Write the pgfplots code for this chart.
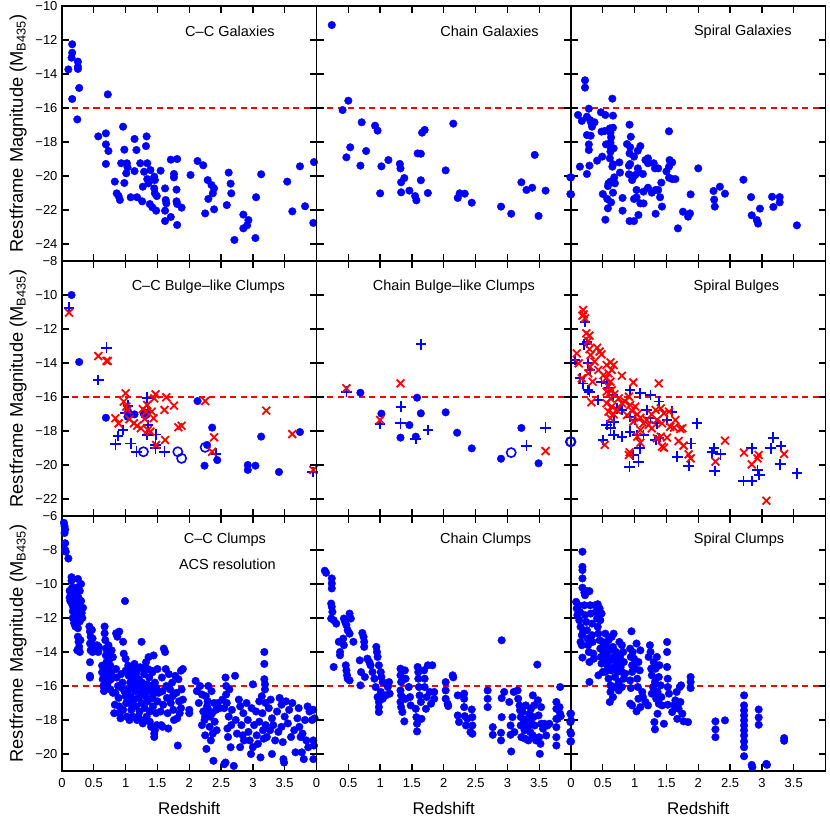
\documentclass[border=0pt]{standalone}
\usepackage{fontspec}
\setmainfont{Liberation Sans}
\usepackage{pgfplots}
\pgfplotsset{compat=1.18}
\definecolor{pblue}{RGB}{0,0,255}
\definecolor{pred}{RGB}{255,0,0}

\tikzset{ttl/.style={font=\fontsize{14.5}{14.5}\selectfont, anchor=center}}
\pgfplotsset{
  panel/.style={
    scale only axis, width=254.5pt, height=255pt,
    xmin=0, xmax=4,
    xtick={0,0.5,1,1.5,2,2.5,3,3.5,4},
    xticklabels={},
    tick align=inside, major tick length=7pt,
    axis line style={line width=1.6pt},
    every tick/.style={line width=1.3pt, black},
    tick label style={font=\fontsize{13}{13}\selectfont},
    yticklabel style={xshift=-1pt},
    xticklabel style={yshift=-4pt},
    xlabel style={font=\fontsize{17}{17}\selectfont},
    ylabel style={font=\fontsize{18.3}{18.3}\selectfont},
    ylabel shift=2pt,
    xlabel shift=8pt,
    axis on top,
  },
  toprow/.style={ymin=-25, ymax=-10, ytick={-24,-22,-20,-18,-16,-14,-12,-10}},
  midrow/.style={ymin=-23, ymax=-8, ytick={-22,-20,-18,-16,-14,-12,-10,-8}},
  botrow/.style={ymin=-21, ymax=-6, ytick={-20,-18,-16,-14,-12,-10,-8,-6},
    xticklabels={0,0.5,1,1.5,2,2.5,3,3.5,{}}, xlabel={Redshift}},
  leftcol/.style={ylabel={Restframe Magnitude (M\textsubscript{B435})}},
  noy/.style={yticklabels={}},
  dot/.style={only marks, mark=*, mark size=3.8pt, color=pblue},
  plus/.style={only marks, mark=+, mark size=5.3pt, color=pblue, mark options={line width=1.8pt}},
  ring/.style={only marks, mark=o, mark size=4.6pt, color=pblue, mark options={line width=1.6pt}},
  cross/.style={only marks, mark=x, mark size=5.5pt, color=pred, mark options={line width=1.8pt}},
  cut/.style={pred, line width=1.5pt, dash pattern=on 6pt off 4.5pt},
}

\begin{document}
\begin{tikzpicture}
\useasboundingbox (0pt,0pt) rectangle (830pt,-820pt);

% ---------- top row ----------
\begin{axis}[panel, toprow, leftcol, at={(62pt,-6pt)}, anchor=north west,
  yticklabels={−24,−22,−20,−18,−16,−14,−12,−10}]
\addplot[cut] coordinates {(0,-16) (4,-16)};
\addplot[dot] coordinates {
(0.10,-13.73)(0.16,-12.25)(0.16,-12.75)(0.15,-13.04)(0.16,-15.47)(0.25,-13.27)(0.25,-13.57)
(0.25,-13.7)(0.27,-14.82)(0.24,-16.67)(0.72,-15.2)(0.57,-17.67)(0.69,-17.49)(0.69,-18.14)
(0.73,-18.53)(0.69,-19.29)(0.96,-17.1)(0.98,-18.45)(0.83,-20.33)(0.86,-21.02)(0.89,-21.18)
(0.91,-21.41)(0.93,-19.25)(0.98,-20.41)(1.01,-19.84)(1.02,-19.25)(1.03,-19.49)(1.08,-21.25)
(1.14,-17.82)(1.17,-18.47)(1.14,-19.71)(1.18,-21.25)(1.23,-19.25)(1.26,-21.49)(1.27,-20.63)
(1.29,-19.75)(1.33,-17.67)(1.32,-18.24)(1.34,-19.25)(1.34,-20.18)(1.36,-20.43)(1.39,-19.65)
(1.38,-21.65)(1.42,-21.84)(1.45,-20.04)(1.46,-20.24)(1.45,-20.73)(1.46,-21.02)(1.49,-21.18)
(1.48,-22.04)(1.55,-19.69)(1.62,-20.73)(1.63,-21.41)(1.64,-21.61)(1.62,-22.04)(1.62,-22.65)
(1.71,-19.04)(1.71,-22.41)(1.76,-19.88)(1.76,-20.08)(1.80,-20.8)(1.80,-21.49)(1.81,-21.65)
(1.81,-19.0)(1.88,-21.86)(1.81,-22.88)(2.02,-19.94)(2.13,-19.12)(2.22,-19.37)(2.25,-22.2)
(2.29,-20.24)(2.30,-21.35)(2.35,-20.53)(2.37,-21.02)(2.39,-20.73)(2.39,-21.96)(2.59,-21.71)
(2.62,-19.80)(2.65,-20.45)(2.66,-21.02)(2.71,-23.76)(2.85,-22.27)(2.85,-23.08)(2.91,-22.9)
(2.93,-22.59)(3.04,-23.65)(3.05,-21.25)(3.13,-19.90)(3.54,-20.33)(3.62,-22.08)(3.74,-19.43)
(3.82,-21.78)(3.96,-19.18)(3.95,-22.76)};
\node[ttl] at (rel axis cs:0.66,0.9) {C–C Galaxies};
\end{axis}

\begin{axis}[panel, toprow, noy, at={(316.5pt,-6pt)}, anchor=north west]
\addplot[cut] coordinates {(0,-16) (4,-16)};
\addplot[dot] coordinates {
(0.24,-11.12)(0.50,-15.57)(0.41,-16.12)(0.71,-16.84)(0.92,-17.04)(0.96,-17.33)(0.53,-18.31)
(0.47,-18.9)(0.69,-19.39)(0.78,-18.53)(1.02,-19.43)(1.00,-21.02)(1.13,-19.06)(1.31,-19.29)
(1.32,-19.55)(1.38,-20.12)(1.33,-20.37)(1.33,-20.96)(1.46,-20.86)(1.55,-21.18)(1.57,-21.43)
(1.59,-18.67)(1.64,-18.69)(1.64,-20.25)(1.66,-17.45)(1.70,-17.29)(1.75,-21.0)(2.15,-16.92)
(2.03,-19.67)(2.22,-21.29)(2.25,-21.02)(2.33,-21.04)(2.44,-21.57)(2.90,-21.8)(3.06,-22.22)
(3.22,-20.37)(3.30,-20.82)(3.39,-20.69)(3.43,-18.76)(3.49,-22.35)(3.60,-20.86)(3.99,-20.08)
(3.99,-21.06)};
\node[ttl] at (rel axis cs:0.68,0.9) {Chain Galaxies};
\end{axis}

\begin{axis}[panel, toprow, noy, at={(571pt,-6pt)}, anchor=north west]
\addplot[cut] coordinates {(0,-16) (4,-16)};
\addplot[dot] coordinates {
(0.0,-20.08)(0.0,-21.08)(0.22,-14.37)(0.22,-14.8)(0.65,-15.45)(0.28,-16.04)(0.11,-16.41)
(0.17,-16.76)(0.25,-16.51)(0.30,-16.71)(0.33,-17.1)(0.37,-16.84)(0.32,-16.9)(0.47,-16.25)
(0.54,-16.41)(0.66,-16.45)(0.25,-17.59)(0.31,-17.63)(0.28,-18.14)(0.28,-18.47)(0.14,-19.45)
(0.25,-19.88)(0.29,-19.39)(0.41,-19.1)(0.48,-17.39)(0.53,-17.35)(0.61,-17.2)(0.66,-17.16)
(0.62,-17.45)(0.63,-17.73)(0.55,-18.14)(0.62,-18.04)(0.67,-18.37)(0.63,-18.41)(0.62,-18.57)
(0.49,-18.86)(0.61,-18.96)(0.66,-19.31)(0.65,-19.45)(0.68,-20.08)(0.59,-20.43)(0.62,-20.33)
(0.69,-20.43)(0.58,-20.59)(0.50,-21.06)(0.66,-20.98)(0.57,-21.35)(0.63,-21.55)(0.58,-21.9)
(0.54,-22.57)(0.76,-19.2)(0.77,-19.8)(0.81,-21.29)(0.81,-22.04)(0.92,-16.98)(0.94,-17.69)
(0.88,-18.12)(0.93,-18.31)(0.92,-18.67)(0.99,-18.86)(1.05,-18.51)(1.09,-18.24)(0.91,-19.39)
(0.93,-19.29)(0.91,-19.9)(0.96,-20.24)(1.01,-19.94)(1.05,-19.55)(1.06,-19.78)(0.98,-20.04)
(1.03,-20.82)(0.99,-21.35)(1.03,-21.25)(1.09,-21.61)(1.14,-21.61)(1.06,-22.29)(0.99,-22.65)
(0.92,-22.65)(1.13,-19.88)(1.14,-20.92)(1.17,-19.06)(1.21,-18.96)(1.21,-19.25)(1.21,-20.69)
(1.27,-20.98)(1.30,-19.25)(1.32,-19.55)(1.33,-20.82)(1.37,-19.55)(1.37,-20.82)(1.40,-21.25)
(1.42,-20.39)(1.43,-21.8)(1.33,-22.22)(1.54,-17.37)(1.50,-19.73)(1.54,-19.45)(1.55,-19.06)
(1.59,-19.2)(1.54,-20.1)(1.59,-20.18)(1.64,-20.18)(1.68,-23.08)(1.76,-22.1)(1.84,-22.39)
(1.87,-22.2)(1.88,-21.08)(2.0,-19.55)(2.24,-20.88)(2.25,-21.39)(2.26,-21.8)(2.34,-20.63)
(2.42,-21.04)(2.71,-20.22)(2.83,-21.24)(2.84,-22.31)(2.92,-22.59)(2.94,-22.8)(2.97,-21.92)
(3.16,-21.22)(3.18,-21.82)(3.28,-21.24)(3.28,-21.55)(3.55,-22.9)};
\node[ttl] at (rel axis cs:0.675,0.9) {Spiral Galaxies};
\end{axis}

% ---------- middle row ----------
\begin{axis}[panel, midrow, leftcol, at={(62pt,-261pt)}, anchor=north west,
  yticklabels={−22,−20,−18,−16,−14,−12,−10,−8}]
\addplot[cut] coordinates {(0,-16) (4,-16)};
\addplot[dot] coordinates {
(0.15,-10.0)(0.27,-13.94)(0.69,-17.22)(1.03,-17.16)(1.04,-16.86)(1.14,-17.02)(1.29,-17.0)
(2.13,-16.24)(2.24,-20.04)(2.28,-18.82)(2.36,-17.8)(2.44,-19.71)(2.92,-20.0)(2.92,-20.29)
(3.04,-20.04)(3.13,-18.33)(3.41,-20.41)(3.74,-18.06)};
\addplot[plus] coordinates {
(0.11,-10.75)(0.70,-13.1)(0.57,-15.0)(0.84,-18.78)(0.88,-18.29)(0.96,-17.94)(1.04,-16.51)
(1.0,-16.92)(1.08,-18.73)(1.17,-19.22)(1.34,-16.04)(1.35,-16.86)(1.35,-17.65)(1.34,-18.24)
(1.48,-18.2)(1.47,-18.82)(1.47,-19.02)(1.61,-19.22)(2.42,-19.33)(3.94,-20.41)};
\addplot[ring] coordinates {
(1.28,-19.22)(1.31,-17.0)(1.82,-19.22)(1.88,-19.61)(2.25,-18.96)};
\addplot[cross] coordinates {
(0.11,-11.04)(0.57,-13.59)(0.70,-13.88)(0.72,-13.88)(0.84,-17.25)(0.89,-17.55)(0.97,-16.27)
(1.0,-15.78)(1.01,-16.57)(1.03,-16.76)(1.06,-17.31)(1.13,-17.55)(1.18,-17.69)(1.24,-17.84)
(1.27,-16.71)(1.30,-17.29)(1.32,-16.86)(1.34,-16.47)(1.35,-17.94)(1.39,-18.04)(1.41,-16.86)
(1.44,-17.25)(1.45,-16.08)(1.47,-15.84)(1.48,-18.82)(1.61,-16.76)(1.62,-18.53)(1.64,-16.02)
(1.76,-16.51)(1.83,-17.78)(1.88,-17.69)(2.25,-16.24)(2.36,-19.22)(2.39,-18.37)(3.21,-16.8)
(3.62,-18.18)(3.95,-20.29)};
\node[ttl] at (rel axis cs:0.575,0.9) {C–C Bulge–like Clumps};
\end{axis}

\begin{axis}[panel, midrow, noy, at={(316.5pt,-261pt)}, anchor=north west]
\addplot[cut] coordinates {(0,-16) (4,-16)};
\addplot[dot] coordinates {
(0.69,-15.75)(1.02,-16.98)(1.46,-17.65)(1.32,-18.39)(1.58,-16.04)(1.64,-16.96)(1.56,-18.33)
(2.03,-16.9)(2.21,-18.1)(2.44,-19.02)(2.90,-19.63)(3.22,-17.82)(3.49,-19.9)};
\addplot[plus] coordinates {
(0.47,-15.69)(1.0,-17.59)(1.33,-16.57)(1.32,-17.55)(1.64,-12.9)(1.75,-17.94)(1.56,-18.47)
(3.30,-18.86)(3.60,-17.8)};
\addplot[ring] coordinates {(3.06,-19.27)(3.99,-18.63)};
\addplot[cross] coordinates {(0.47,-15.49)(1.0,-17.35)(1.32,-15.2)(3.60,-19.18)};
\node[ttl] at (rel axis cs:0.54,0.9) {Chain Bulge–like Clumps};
\end{axis}

\begin{axis}[panel, midrow, noy, at={(571pt,-261pt)}, anchor=north west]
\addplot[cut] coordinates {(0,-16) (4,-16)};
\addplot[ring] coordinates {(0.0,-18.63)};
\addplot[plus] coordinates {
(0.22,-11.57)(0.21,-12.9)(0.25,-12.78)(0.06,-13.82)(0.27,-14.02)(0.30,-14.41)(0.14,-14.9)
(0.19,-15.2)(0.27,-15.59)(0.29,-15.69)(0.43,-16.18)(0.48,-15.1)(0.56,-15.2)(0.60,-15.49)
(0.66,-15.88)(0.72,-16.67)(0.80,-16.76)(0.67,-17.45)(0.56,-17.65)(0.62,-17.84)(0.67,-18.24)
(0.80,-18.33)(0.50,-18.53)(0.93,-15.59)(1.09,-15.78)(1.25,-15.88)(1.38,-16.27)(0.93,-17.16)
(1.01,-17.35)(1.04,-18.24)(1.14,-18.24)(0.93,-18.04)(1.19,-16.76)(1.25,-17.25)(1.35,-17.55)
(1.51,-17.35)(1.59,-16.86)(1.08,-19.02)(0.98,-19.41)(1.06,-19.8)(0.92,-20.1)(1.33,-18.53)
(1.38,-18.43)(1.67,-19.51)(1.85,-20.04)(1.88,-18.73)(1.98,-17.55)(2.25,-19.02)(2.26,-20.35)
(2.35,-19.37)(2.22,-19.25)(2.71,-20.94)(2.84,-20.94)(2.84,-19.02)(2.96,-20.59)(2.93,-20.29)
(3.18,-18.39)(3.14,-19.02)(3.30,-18.88)(3.29,-19.96)(3.55,-20.49)};
\addplot[cross] coordinates {
(0.19,-10.88)(0.20,-11.14)(0.22,-11.37)(0.18,-11.22)(0.24,-12.25)(0.29,-12.39)(0.27,-12.71)
(0.09,-13.43)(0.12,-14.02)(0.29,-13.18)(0.31,-13.53)(0.41,-13.10)(0.45,-13.33)(0.48,-13.49)
(0.37,-13.92)(0.30,-14.22)(0.27,-14.61)(0.17,-14.9)(0.34,-15.1)(0.43,-14.41)(0.51,-14.71)
(0.56,-14.12)(0.62,-13.96)(0.67,-14.12)(0.64,-14.41)(0.59,-14.61)(0.55,-14.9)(0.62,-15.1)
(0.80,-14.75)(0.59,-15.39)(0.64,-15.59)(0.56,-15.69)(0.68,-15.84)(0.62,-16.08)(0.32,-16.31)
(0.56,-16.37)(0.64,-16.57)(0.59,-16.86)(0.67,-17.02)(0.62,-17.25)(0.72,-16.76)(0.80,-16.37)
(0.75,-16.08)(0.98,-15.14)(0.91,-15.98)(0.85,-16.27)(0.93,-16.47)(1.01,-16.57)(0.96,-16.82)
(0.88,-17.06)(1.04,-17.02)(1.09,-17.22)(0.98,-17.45)(1.14,-17.55)(1.19,-17.35)(1.22,-17.65)
(1.09,-17.94)(1.27,-17.02)(1.33,-16.76)(1.38,-15.2)(1.41,-16.67)(1.46,-16.96)(1.35,-17.35)
(1.43,-17.55)(1.27,-17.84)(1.54,-16.86)(1.64,-17.35)(1.56,-17.75)(1.62,-17.8)(1.72,-17.88)
(1.75,-17.84)(1.35,-18.43)(1.41,-18.33)(1.51,-18.39)(1.43,-18.92)(1.46,-18.98)(1.69,-18.59)
(1.77,-18.86)(1.85,-19.37)(1.88,-19.61)(1.09,-18.69)(1.04,-18.33)(0.92,-19.25)(0.91,-19.41)
(0.53,-18.82)(2.42,-18.57)(2.27,-19.8)(2.72,-19.27)(2.84,-19.96)(2.93,-19.61)(2.95,-19.41)
(3.35,-19.35)(3.07,-22.1)};
\node[ttl] at (rel axis cs:0.65,0.9) {Spiral Bulges};
\end{axis}

% ---------- bottom row ----------
\begin{axis}[panel, botrow, leftcol, at={(62pt,-516pt)}, anchor=north west,
  yticklabels={−20,−18,−16,−14,−12,−10,−8,−6}]
\addplot[cut] coordinates {(0,-16) (4,-16)};
\addplot[dot] coordinates {
(0.03,-6.4)(0.04,-6.6)(0.05,-6.8)(0.04,-7.0)(0.05,-7.6)(0.05,-8.0)(0.06,-8.1)(0.1,-8.5)
(0.12,-10.4)(0.12,-10.8)(0.13,-11.0)(0.14,-10.6)(0.15,-9.6)(0.15,-9.8)(0.16,-10.2)(0.16,-11.2)
(0.17,-11.6)(0.17,-12.0)(0.18,-10.5)(0.18,-11.4)(0.19,-12.3)(0.2,-10.9)(0.2,-11.8)(0.21,-12.5)
(0.22,-10.6)(0.22,-11.1)(0.23,-12.1)(0.24,-10.2)(0.24,-11.5)(0.25,-9.7)(0.25,-12.6)(0.26,-10.8)
(0.27,-11.3)(0.27,-11.9)(0.28,-10.4)(0.28,-12.2)(0.3,-10.0)(0.3,-11.0)(0.31,-11.7)(0.32,-12.0)
(0.33,-11.4)(0.25,-13.1)(0.26,-13.4)(0.27,-13.7)(0.28,-14.0)(0.29,-13.3)(0.24,-13.9)
(0.43,-12.5)(0.44,-12.8)(0.45,-13.1)(0.44,-13.5)(0.45,-13.9)(0.47,-12.7)(0.48,-13.2)(0.5,-13.6)
(0.48,-14.0)(0.44,-14.6)(0.44,-15.4)(0.44,-15.5)(0.55,-13.6)(0.57,-14.0)(0.58,-13.7)
(0.63,-14.8)(0.63,-15.2)(0.64,-15.6)(0.65,-16.0)(0.66,-16.3)(0.67,-12.5)(0.67,-12.9)(0.68,-13.3)
(0.69,-13.8)(0.69,-14.2)(0.7,-14.6)(0.7,-15.0)(0.71,-15.4)(0.72,-15.8)(0.72,-16.1)(0.73,-13.6)
(0.74,-14.0)(0.75,-14.4)(0.76,-14.8)(0.78,-15.2)(0.78,-13.9)(0.8,-14.3)(0.77,-15.6)(0.76,-16.2)
(0.8,-16.4)
(0.85,-12.9)(0.87,-13.1)(0.9,-12.8)(0.85,-15.0)(0.86,-15.5)(0.88,-16.0)(0.89,-16.7)(0.9,-17.2)
(0.91,-17.6)(0.92,-17.9)(0.84,-16.4)(0.83,-17.1)(0.82,-17.6)(0.93,-15.3)(0.95,-15.8)(0.96,-13.4)
(0.97,-14.1)(0.98,-16.3)(0.99,-11.0)(1.0,-14.4)(1.0,-15.1)(1.0,-16.6)(1.01,-17.0)(1.02,-17.8)
(0.94,-16.1)(0.96,-17.4)
(1.04,-14.8)(1.05,-15.4)(1.05,-16.2)(1.06,-17.0)(1.07,-15.8)(1.08,-16.6)(1.09,-17.4)(1.1,-15.0)
(1.1,-16.0)(1.11,-17.8)(1.12,-15.5)(1.13,-16.8)(1.14,-14.7)(1.15,-16.3)(1.16,-17.2)(1.17,-15.2)
(1.18,-18.0)(1.19,-16.0)(1.2,-16.7)(1.21,-15.6)(1.22,-17.5)(1.23,-14.9)(1.24,-16.4)(1.25,-13.4)
(1.25,-17.0)(1.26,-15.8)(1.27,-18.2)(1.28,-16.2)(1.29,-15.3)(1.3,-17.3)(1.31,-16.6)(1.32,-14.6)
(1.33,-17.8)(1.34,-15.9)(1.35,-16.9)(1.36,-14.3)(1.37,-15.5)(1.38,-17.5)(1.39,-16.3)(1.4,-18.4)
(1.41,-15.1)(1.42,-16.7)(1.43,-17.2)(1.44,-14.2)(1.45,-18.8)(1.45,-19.0)(1.46,-15.8)(1.47,-16.4)
(1.48,-17.6)(1.49,-18.3)(1.5,-15.0)(1.5,-16.9)(1.12,-14.9)(1.18,-15.0)(1.28,-15.0)(1.35,-15.0)
(1.42,-15.2)(1.06,-18.0)(1.2,-17.8)(1.3,-18.0)(1.38,-18.1)(1.46,-18.6)(1.15,-15.7)(1.25,-16.0)
(1.33,-16.2)(1.4,-16.0)(1.08,-15.3)(1.48,-16.1)
(1.55,-17.5)(1.56,-18.3)(1.57,-15.5)(1.58,-16.3)(1.59,-17.1)(1.6,-13.8)(1.62,-14.0)(1.63,-15.0)
(1.64,-16.0)(1.65,-16.7)(1.66,-17.6)(1.67,-18.5)(1.68,-15.3)(1.7,-16.2)(1.71,-17.0)(1.73,-15.8)
(1.74,-16.6)(1.75,-17.4)(1.76,-18.0)(1.78,-15.4)(1.8,-16.4)(1.81,-17.9)(1.82,-19.5)(1.83,-15.6)
(1.84,-16.9)(1.85,-17.6)(1.87,-15.1)(1.88,-16.2)(1.9,-15.0)(1.9,-16.8)(1.87,-17.3)(1.58,-18.4)
(1.52,-16.4)
(2.0,-17.4)(2.0,-17.6)(2.1,-15.7)(2.12,-16.3)(2.15,-17.0)(2.17,-16.0)(2.2,-16.5)(2.22,-17.5)
(2.24,-18.0)(2.25,-18.9)(2.26,-16.6)(2.27,-19.7)(2.28,-17.2)(2.29,-16.9)(2.3,-16.0)(2.32,-18.4)
(2.33,-17.8)(2.34,-19.2)(2.35,-16.3)(2.36,-17.6)(2.37,-18.8)(2.38,-20.4)(2.39,-17.0)(2.4,-18.1)
(2.42,-17.4)(2.43,-18.6)(2.2,-18.3)(2.25,-17.8)(2.3,-17.4)(2.45,-17.0)(2.48,-17.3)
(2.52,-16.8)(2.55,-17.3)(2.55,-20.6)(2.57,-20.5)(2.57,-15.5)(2.58,-16.0)(2.58,-16.5)(2.59,-17.0)
(2.6,-18.5)(2.61,-19.0)(2.62,-17.8)(2.63,-16.2)(2.65,-19.6)(2.66,-18.3)(2.67,-17.4)(2.7,-20.7)
(2.72,-15.4)(2.73,-18.0)(2.75,-18.8)(2.78,-16.8)(2.8,-19.6)(2.8,-17.2)(2.82,-18.3)(2.84,-18.9)
(2.85,-17.6)(2.86,-19.2)
(2.9,-17.0)(2.92,-18.0)(2.93,-18.7)(2.95,-19.2)(2.97,-20.0)(2.98,-17.3)(3.0,-15.9)(3.0,-19.6)
(3.02,-18.3)(3.05,-17.5)(3.06,-18.9)(3.08,-19.4)(3.1,-16.9)(3.1,-18.1)(3.12,-20.2)(3.14,-16.6)
(3.15,-17.6)(3.16,-18.6)(3.17,-19.1)(3.18,-14.0)(3.18,-14.7)(3.18,-15.6)(3.19,-15.9)(3.19,-16.2)
(3.2,-17.0)(3.2,-18.3)(3.22,-19.0)(3.25,-17.3)(3.27,-18.6)(3.28,-16.8)(3.3,-17.9)(3.3,-20.0)
(3.32,-18.3)(3.35,-19.2)(3.38,-17.5)(3.4,-18.7)(3.42,-16.7)(3.45,-17.1)(3.45,-18.4)(3.47,-19.3)
(3.48,-20.3)(3.49,-20.5)(3.5,-17.8)(3.52,-16.9)(3.55,-18.2)(3.57,-17.4)(3.6,-19.0)(3.62,-17.0)
(3.65,-18.6)(3.67,-19.9)(3.7,-17.9)(3.72,-17.3)(3.73,-18.4)(3.75,-19.0)(3.77,-19.9)(3.78,-18.8)
(3.8,-20.3)(3.82,-18.0)(3.84,-19.2)(3.86,-17.2)(3.87,-19.6)(3.89,-17.5)(3.93,-18.0)(3.95,-17.4)
(3.95,-19.2)(3.95,-20.3)(3.96,-19.5)(3.97,-17.9)};
\node[ttl] at (rel axis cs:0.64,0.905) {C–C Clumps};
\node[ttl] at (rel axis cs:0.65,0.81) {ACS resolution};
\end{axis}

\begin{axis}[panel, botrow, noy, at={(316.5pt,-516pt)}, anchor=north west]
\addplot[cut] coordinates {(0,-16) (4,-16)};
\addplot[dot] coordinates {
(0.13,-9.22)(0.15,-9.34)(0.24,-9.67)(0.24,-9.97)(0.24,-10.26)(0.23,-11.15)(0.24,-11.34)
(0.25,-11.64)(0.23,-12.03)(0.27,-12.13)(0.31,-12.33)(0.27,-14.88)(0.35,-13.4)(0.37,-14.0)
(0.37,-14.19)(0.42,-13.21)(0.43,-13.6)(0.43,-12.03)(0.45,-12.23)(0.47,-12.42)(0.49,-12.72)
(0.52,-11.74)(0.52,-12.92)(0.54,-12.03)(0.58,-13.4)(0.46,-14.78)(0.47,-15.08)(0.48,-15.37)
(0.49,-15.57)(0.52,-15.67)(0.68,-14.49)(0.7,-15.18)(0.69,-15.96)(0.72,-12.88)(0.74,-13.11)
(0.75,-13.4)(0.75,-13.7)(0.76,-15.47)(0.8,-14.39)(0.83,-14.59)(0.85,-14.78)(0.88,-15.18)
(0.91,-15.57)(0.93,-16.06)(0.94,-13.7)(0.95,-14.0)(0.96,-14.29)(0.98,-14.78)(1.01,-15.18)
(1.02,-15.47)(1.04,-15.77)(0.96,-16.65)(0.98,-16.94)(0.98,-17.24)(0.98,-17.53)(1.01,-16.35)
(1.04,-16.75)(1.09,-16.55)(1.14,-15.77)(1.12,-16.06)(1.15,-16.45)
(1.32,-14.98)(1.32,-15.37)(1.33,-15.77)(1.32,-16.26)(1.33,-16.55)(1.32,-16.94)(1.33,-17.24)
(1.35,-17.53)(1.38,-18.08)(1.39,-15.08)(1.4,-15.57)(1.4,-16.75)(1.45,-16.06)(1.47,-16.65)
(1.48,-17.14)(1.56,-17.34)(1.57,-17.83)(1.58,-18.22)(1.58,-18.67)(1.59,-14.88)(1.6,-15.18)
(1.6,-15.57)(1.61,-16.06)(1.62,-16.55)(1.64,-16.94)(1.65,-17.93)(1.69,-15.08)(1.7,-15.57)
(1.7,-16.06)(1.72,-17.34)(1.73,-16.65)(1.75,-14.78)(1.78,-16.35)(1.8,-17.04)(1.82,-14.78)
(1.85,-16.35)(1.85,-16.75)
(2.03,-15.77)(2.03,-16.26)(2.03,-16.75)(2.06,-17.04)(2.07,-17.18)(2.14,-15.37)(2.15,-15.49)
(2.22,-16.55)(2.22,-17.73)(2.24,-18.12)(2.32,-16.45)(2.32,-16.75)(2.32,-17.24)(2.33,-17.77)
(2.35,-18.32)(2.37,-17.93)(2.42,-18.71)(2.44,-17.38)(2.45,-17.83)(2.45,-18.32)(2.45,-18.81)
(2.69,-16.26)(2.69,-16.75)(2.69,-17.24)(2.77,-18.42)(2.77,-18.87)(2.9,-18.75)(2.9,-19.2)
(2.91,-13.31)(2.91,-16.71)(2.91,-17.83)(2.95,-16.35)(3.03,-16.94)(3.05,-18.32)(3.05,-18.87)
(3.06,-19.85)(3.08,-17.83)(3.1,-16.35)(3.11,-18.71)(3.16,-16.26)(3.17,-16.75)(3.19,-17.14)
(3.2,-17.43)(3.21,-17.83)(3.21,-18.32)(3.22,-19.01)(3.24,-17.53)(3.26,-18.12)(3.27,-18.61)
(3.28,-19.1)(3.29,-17.14)(3.31,-17.93)(3.32,-18.42)(3.33,-19.2)(3.35,-17.63)(3.36,-18.71)
(3.37,-17.34)(3.38,-18.22)(3.4,-16.55)(3.4,-18.91)(3.41,-17.83)(3.42,-17.14)(3.43,-18.32)
(3.45,-19.2)(3.47,-14.74)(3.48,-16.84)(3.49,-17.73)(3.5,-19.01)(3.51,-19.99)(3.52,-19.4)
(3.53,-17.24)(3.53,-18.22)(3.56,-18.51)(3.58,-18.22)(3.61,-18.91)(3.63,-18.32)(3.66,-18.22)
(3.77,-16.94)(3.77,-17.34)(3.77,-17.93)(3.77,-18.42)(3.77,-19.01)(3.77,-19.5)(3.79,-17.93)
(3.82,-17.24)(3.83,-16.06)(3.83,-17.63)(3.84,-17.77)(3.99,-17.63)(3.99,-18.12)(3.99,-18.71)
(3.99,-19.26)};
\node[ttl] at (rel axis cs:0.665,0.905) {Chain Clumps};
\end{axis}

\begin{axis}[panel, botrow, noy, at={(571pt,-516pt)}, anchor=north west]
\addplot[cut] coordinates {(0,-16) (4,-16)};
\addplot[dot] coordinates {
(0.0,-17.63)(0.0,-18.02)(0.0,-18.81)(0.0,-19.26)(0.18,-8.1)(0.18,-8.99)(0.18,-9.18)(0.18,-9.67)
(0.18,-10.22)(0.21,-10.5)(0.22,-10.66)(0.25,-10.42)(0.29,-10.42)
(0.08,-11.05)(0.09,-11.44)(0.10,-11.83)(0.12,-11.25)(0.13,-12.13)(0.14,-11.64)(0.15,-12.52)
(0.17,-13.01)(0.15,-13.41)(0.17,-13.6)(0.18,-14.33)(0.19,-12.82)(0.21,-11.25)(0.22,-11.83)
(0.24,-12.23)(0.25,-12.72)(0.26,-13.21)(0.27,-13.6)(0.28,-14.0)(0.29,-14.59)(0.29,-15.76)
(0.30,-11.25)(0.31,-11.74)(0.33,-12.33)(0.33,-13.01)(0.34,-13.41)(0.35,-14.09)(0.36,-14.39)
(0.38,-11.25)(0.39,-11.64)(0.41,-12.03)(0.42,-12.52)(0.43,-12.92)(0.43,-15.37)(0.45,-13.31)
(0.46,-13.8)(0.47,-14.29)(0.48,-14.68)(0.5,-15.17)(0.45,-11.44)(0.48,-11.74)(0.42,-11.19)
(0.46,-12.13)
(0.5,-13.41)(0.51,-14.0)(0.52,-14.59)(0.54,-12.92)(0.54,-15.17)(0.55,-13.6)(0.56,-14.19)
(0.57,-14.78)(0.59,-13.31)(0.59,-15.57)(0.61,-13.9)(0.62,-14.49)(0.62,-16.35)(0.63,-15.08)
(0.64,-13.11)(0.64,-16.06)(0.66,-13.7)(0.66,-16.65)(0.67,-14.29)(0.68,-14.88)(0.69,-15.47)
(0.71,-14.0)(0.72,-14.59)(0.73,-15.17)(0.75,-15.76)(0.76,-13.41)(0.77,-14.29)(0.78,-14.88)
(0.8,-13.6)(0.8,-15.17)(0.82,-14.0)(0.83,-14.59)(0.61,-16.94)(0.67,-12.92)(0.75,-16.26)
(0.62,-15.96)(0.69,-16.06)(0.8,-16.06)(0.83,-15.57)(0.85,-15.27)
(0.95,-12.78)(0.93,-13.8)(0.94,-14.29)(0.96,-14.78)(0.96,-15.17)(0.93,-15.67)(0.94,-16.12)
(0.93,-17.04)(0.96,-17.14)(0.97,-14.0)(0.99,-14.39)(1.01,-14.98)(1.03,-13.5)(1.04,-15.57)
(1.05,-16.06)(1.06,-14.59)(1.08,-15.08)(1.09,-13.9)(1.09,-17.24)(1.12,-16.35)(1.03,-17.49)
(1.06,-16.75)
(1.13,-16.65)(1.17,-16.94)(1.21,-17.14)(1.22,-14.29)(1.24,-13.6)(1.25,-14.0)(1.26,-14.98)
(1.27,-15.37)(1.27,-16.45)(1.29,-16.06)(1.3,-14.59)(1.31,-18.12)(1.32,-15.76)(1.33,-14.98)
(1.34,-16.75)(1.35,-14.29)(1.36,-16.35)(1.36,-17.63)(1.38,-15.47)(1.38,-17.04)(1.39,-14.78)
(1.41,-15.96)(1.42,-16.65)(1.43,-17.14)(1.46,-18.22)(1.51,-13.41)(1.51,-14.0)(1.51,-14.88)
(1.52,-15.57)(1.52,-16.06)(1.52,-17.1)(1.54,-16.45)(1.32,-18.55)
(1.59,-17.53)(1.62,-17.14)(1.64,-16.84)(1.66,-16.35)(1.67,-17.93)(1.69,-17.34)(1.71,-16.06)
(1.72,-16.94)(1.73,-15.96)(1.75,-17.63)(1.77,-18.08)(1.84,-18.12)(1.88,-15.47)(1.88,-15.76)
(1.88,-16.12)
(2.27,-18.08)(2.27,-18.55)(2.27,-19.01)(2.42,-18.02)
(2.72,-16.55)(2.72,-17.14)(2.72,-17.43)(2.72,-17.73)(2.72,-18.02)(2.72,-18.32)(2.72,-18.61)
(2.72,-18.91)(2.72,-19.26)(2.72,-19.6)(2.72,-20.13)(2.84,-20.64)(2.85,-20.77)
(2.95,-17.38)(2.95,-17.85)(2.95,-18.28)(3.07,-20.58)(3.08,-20.64)(3.35,-19.06)(3.35,-19.22)};
\node[ttl] at (rel axis cs:0.66,0.905) {Spiral Clumps};
\end{axis}
\end{tikzpicture}
\end{document}
